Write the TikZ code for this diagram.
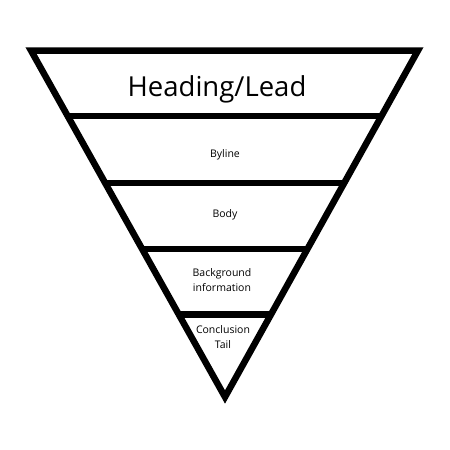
\documentclass[tikz,border=0pt]{standalone}
\usepackage{fontspec}
\setmainfont{Open Sans}
\usetikzlibrary{calc}

\tikzset{
    layer/.style={line width=6.5pt, line join=miter},
    label/.style={align=center, font=\fontsize{10.5}{14.5}\selectfont, inner sep=0pt},
}

\begin{document}
\begin{tikzpicture}[x=1pt, y=-1pt]
    \fill[white] (0, 0) rectangle (450, 450);
    \useasboundingbox (0, 0) rectangle (450, 450);
    % outline
    \coordinate (tl) at (31, 50.5);
    \coordinate (tr) at (418, 50.5);
    \coordinate (apex) at (225, 397);
    \draw[layer] (tl) -- (tr) -- (apex) -- cycle;
    % layer borders
    \foreach \t [count=\i] in {0.189, 0.382, 0.573, 0.762} {
        \draw[layer] ($(tl)!\t!(apex)$) -- ($(tr)!\t!(apex)$);
    }
    % texts
    \node[label, font=\fontsize{27.5}{31}\selectfont] (heading) at (217, 89) {Heading/Lead};
    \node[label] (byline) at (225, 155) {Byline};
    \node[label] (body) at (225, 215) {Body};
    \node[label] (background) at (222, 280) {Background\\information};
    \node[label] (conclusion) at (223, 337) {Conclusion\\Tail};
\end{tikzpicture}
\end{document}
